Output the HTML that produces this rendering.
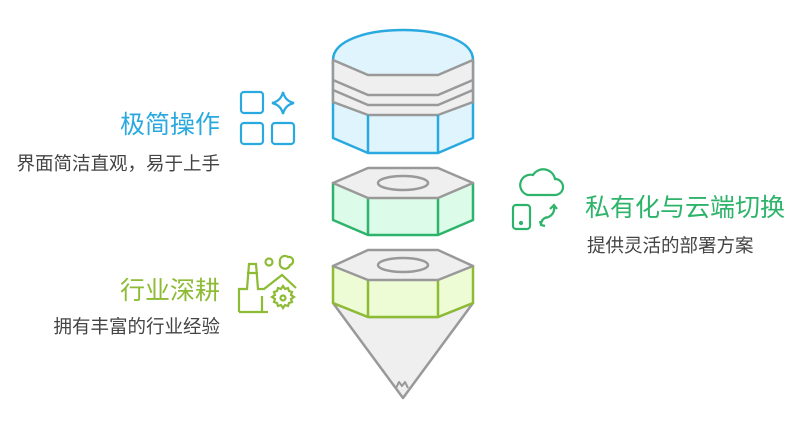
<!DOCTYPE html>
<html><head><meta charset="utf-8"><style>
body{margin:0;background:#fff;width:795px;height:418px;overflow:hidden}
svg text{font-family:"Liberation Sans","Noto Sans CJK SC",sans-serif}
</style></head><body>
<svg width="795" height="418" viewBox="0 0 795 418" xmlns="http://www.w3.org/2000/svg">
<g stroke-width="2.5" stroke-linejoin="round">
<path d="M333 60 C333 20 473 20 473 60 L473 138 L438 153 L368 153 L333 138 Z" fill="#dff4fd" stroke="#29a9df"/>
<path d="M333 60 L368 75 L438 75 L473 60 L473 102 L438 115 L368 115 L333 102 Z" fill="#efefef" stroke="#999"/>
<path d="M333 80 L368 95 L438 95 L473 80 M333 90 L368 105 L438 105 L473 90" fill="none" stroke="#999"/>
<path d="M368 115 V153 M438 115 V153" stroke="#29a9df"/>
<path d="M333 183 L333 220 L368 235 L438 235 L473 220 L473 183 Z" fill="#dcfbe9" stroke="#2db36a"/>
<path d="M368 198 V235 M438 198 V235" stroke="#2db36a"/>
<path d="M333 183 L368 168 L438 168 L473 183 L438 198 L368 198 Z" fill="#efefef" stroke="#999"/>
<ellipse cx="403" cy="183" rx="25" ry="7" fill="none" stroke="#999"/>
<path d="M333 303 L403 398 L473 303 L438 317 L368 317 Z" fill="#efefef" stroke="#999"/>
<path d="M396 388 l3 -6 l3 4 l3 -4 l3 6" fill="none" stroke="#999" stroke-width="2"/>
<path d="M333 266 L333 303 L368 317 L438 317 L473 303 L473 266 Z" fill="#eefcd6" stroke="#8dbb34"/>
<path d="M368 280 V317 M438 280 V317" stroke="#8dbb34"/>
<path d="M333 266 L368 250 L438 250 L473 266 L438 280 L368 280 Z" fill="#efefef" stroke="#999"/>
<ellipse cx="403" cy="265" rx="25" ry="7" fill="none" stroke="#999"/>
</g>
<g fill="none" stroke="#29a9df" stroke-width="2.2">
<rect x="241" y="92" width="22" height="21" rx="3"/><rect x="241" y="123" width="22" height="21" rx="3"/><rect x="272" y="123" width="22" height="21" rx="3"/>
<path d="M283 92 Q285 101 294 103 Q285 105 283 114 Q281 105 272 103 Q281 101 283 92 Z"/>
</g>
<g fill="none" stroke="#2db36a" stroke-width="2.2">
<path d="M528 195 h27 a8 8 0 0 0 0 -16 a12 12 0 0 0 -22 -4 a9 9 0 0 0 -5 20 z"/>
<rect x="513" y="205" width="17" height="24" rx="3"/><circle cx="521" cy="223" r="1" fill="#2db36a"/>
<path d="M554 207 q1 8 -8 11 M550 209 l4 -4 l3 4 M541 225 q0 -6 6 -8 M545 226 l-4 -1 l-1 -4"/>
</g>
<g fill="none" stroke="#8dbb34" stroke-width="2.2">
<path d="M239 312 V289 H247 L249 264 H256 L258 289 H264 L282 275 L296 288 M247 273 H258 M239 312 H268 M262 312 V296"/>
<circle cx="269" cy="262" r="3.5"/><path d="M280 262 a5 5 0 0 1 8 -5 a4 4 0 1 1 2 8 a5 5 0 0 1 -10 -3z"/>
<path d="M283 286 l2 3 l3 -1 l1 3 l3 1 l-1 3 l3 2 l-3 2 l1 3 l-3 1 l-1 3 l-3 -1 l-2 3 l-2 -3 l-3 1 l-1 -3 l-3 -1 l1 -3 l-3 -2 l3 -2 l-1 -3 l3 -1 l1 -3 l3 1 z"/>
<circle cx="283" cy="298" r="2.5"/>
</g>
<text x="220" y="133" font-size="25" fill="#29a9df" text-anchor="end">极简操作</text>
<text x="220" y="170" font-size="18.5" fill="#444" text-anchor="end">界面简洁直观，易于上手</text>
<text x="585" y="216" font-size="25" fill="#2db36a">私有化与云端切换</text>
<text x="587" y="252" font-size="18.5" fill="#444">提供灵活的部署方案</text>
<text x="220" y="299" font-size="25" fill="#8dbb34" text-anchor="end">行业深耕</text>
<text x="220" y="333" font-size="18.5" fill="#444" text-anchor="end">拥有丰富的行业经验</text>
</svg>
</body></html>
